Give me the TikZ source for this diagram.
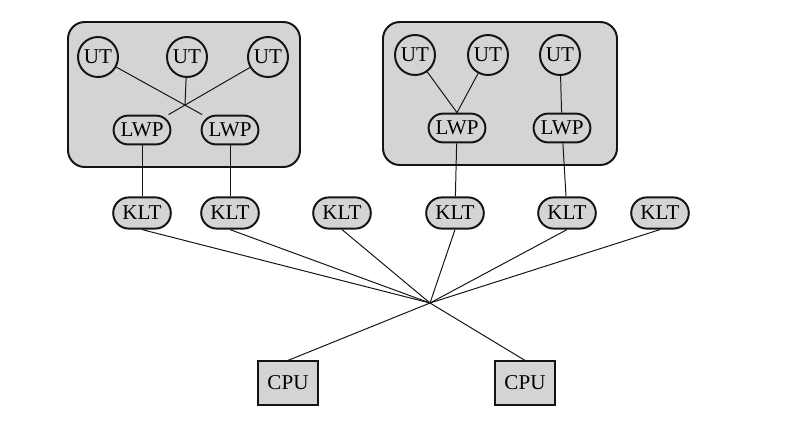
\documentclass[tikz,border=0pt]{standalone}
\usepackage{fontspec}
\setmainfont{Liberation Serif}
\usepackage{tikz}
\definecolor{ink}{HTML}{141414}
\definecolor{shade}{HTML}{D4D4D4}
\tikzset{threadnode/.style={draw=ink,fill=shade,line width=1.4pt,inner sep=0pt,
 font=\fontsize{15}{17}\selectfont},
 utnode/.style={threadnode,circle,minimum size=1cm},
 lwpnode/.style={threadnode,rounded corners=0.36cm,minimum width=1.42cm,minimum height=0.72cm},
 kltnode/.style={threadnode,rounded corners=0.39cm,minimum width=1.44cm,minimum height=0.78cm},
 cpubox/.style={threadnode,minimum width=1.5cm,minimum height=1.08cm},
 procbox/.style={draw=ink,fill=shade,line width=1.4pt,rounded corners=0.42cm},
 wire/.style={draw=ink,line width=0.7pt}}

\begin{document}
\begin{tikzpicture}[x=0.025cm,y=-0.025cm]
\useasboundingbox (0,0) rectangle (798,424);
% processes
\draw[procbox] (68,22) rectangle (300,167);
\draw[procbox] (383,22) rectangle (617,165);
% user threads and lightweight processes
\node[utnode] (ut1) at (98,57) {UT};
\node[utnode] (ut2) at (187,57) {UT};
\node[utnode] (ut3) at (268,57) {UT};
\node[utnode] (ut4) at (415,55) {UT};
\node[utnode] (ut5) at (488,55) {UT};
\node[utnode] (ut6) at (560,55) {UT};
\node[lwpnode] (lwp1) at (142,130) {LWP};
\node[lwpnode] (lwp2) at (230,130) {LWP};
\node[lwpnode] (lwp3) at (457,128) {LWP};
\node[lwpnode] (lwp4) at (562,128) {LWP};
\coordinate (cross) at (intersection of ut1--lwp2 and ut3--lwp1);
\draw[wire] (ut1)--(lwp2);\draw[wire] (ut3)--(lwp1);\draw[wire] (ut2)--(cross);
\draw[wire] (ut4)--(lwp3.north);\draw[wire] (ut5)--(lwp3.north);\draw[wire] (ut6)--(lwp4);
% kernel threads
\foreach \i/\x in {1/142,2/230,3/342,4/455,5/567,6/660}
 \node[kltnode] (klt\i) at (\x,213) {KLT};
\draw[wire] (lwp1)--(klt1);\draw[wire] (lwp2)--(klt2);
\draw[wire] (lwp3)--(klt4);\draw[wire] (lwp4)--(klt5);
% processors
\coordinate (hub) at (430,303);
\node[cpubox] (cpu1) at (288,383) {CPU};
\node[cpubox] (cpu2) at (525,383) {CPU};
\foreach \i in {1,...,6} \draw[wire] (klt\i.south)--(hub);
\draw[wire] (hub)--(cpu1.north);\draw[wire] (hub)--(cpu2.north);
\end{tikzpicture}
\end{document}
